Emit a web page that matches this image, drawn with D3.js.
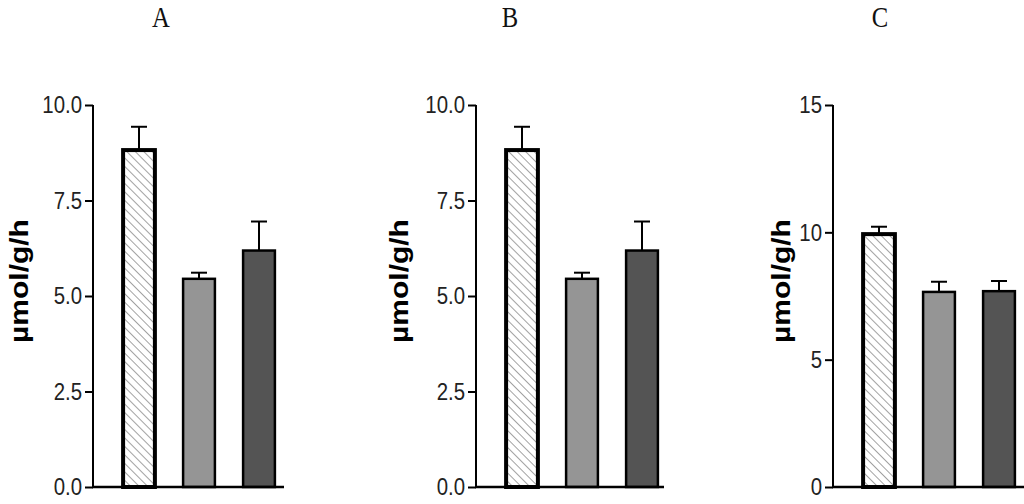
<!DOCTYPE html>
<html>
<head>
<meta charset="utf-8">
<script src="https://cdn.jsdelivr.net/npm/d3@7"></script>
<style>
  body { margin: 0; background: #fff; }
  svg { display: block; }
</style>
</head>
<body>
<svg id="chart" width="1024" height="504"></svg>
<script>
// ---- data ----
const panelTitles = ["A", "B", "C"];
const groups = ["g1", "g2", "g3"];
const meansA = [8.82, 5.45, 6.19];
const errsA  = [0.61, 0.16, 0.76];
const meansB = [8.82, 5.45, 6.19];
const errsB  = [0.61, 0.16, 0.76];
const meansC = [9.93, 7.66, 7.69];
const errsC  = [0.29, 0.40, 0.40];
const ticksAB = [0, 2.5, 5, 7.5, 10];
const ticksC  = [0, 5, 10, 15];
const yLabel = "µmol/g/h";

const panels = [
  { title: panelTitles[0], means: meansA, errs: errsA, ymax: 10, ticks: ticksAB, fmt: d3.format(".1f"),
    axisX: 93, xEnd: 284, titleX: 161, labelX: 18 },
  { title: panelTitles[1], means: meansB, errs: errsB, ymax: 10, ticks: ticksAB, fmt: d3.format(".1f"),
    axisX: 476, xEnd: 664, titleX: 510, labelX: 398 },
  { title: panelTitles[2], means: meansC, errs: errsC, ymax: 15, ticks: ticksC, fmt: d3.format("d"),
    axisX: 833, xEnd: 1024, titleX: 880, labelX: 780 }
];

const fills = ["url(#hatch)", "#959595", "#545454"];
const strokeW = [4, 2.5, 2.5];
const sx = 0.85; // horizontal squeeze of text in the original

const svg = d3.select("#chart");
const defs = svg.append("defs");
const pat = defs.append("pattern")
  .attr("id", "hatch")
  .attr("patternUnits", "userSpaceOnUse")
  .attr("width", 6).attr("height", 6)
  .attr("patternTransform", "rotate(-45)");
pat.append("rect").attr("width", 6).attr("height", 6).attr("fill", "#fff");
pat.append("line").attr("x1", 0).attr("y1", 0).attr("x2", 0).attr("y2", 6)
  .attr("stroke", "#555").attr("stroke-width", 1.1);

const yTop = 105, yBottom = 487;

panels.forEach(p => {
  const g = svg.append("g");
  const y = d3.scaleLinear().domain([0, p.ymax]).range([yBottom, yTop]);
  const x = d3.scaleBand().domain(groups)
    .range([p.axisX + 16, p.axisX + 196])
    .paddingInner(0.47).paddingOuter(0.235);

  // title
  g.append("text")
    .attr("transform", `translate(${p.titleX},27) scale(${sx},1)`)
    .attr("text-anchor", "middle")
    .attr("font-family", "'Liberation Serif', 'Times New Roman', serif")
    .attr("font-size", 29)
    .attr("fill", "#111")
    .text(p.title);

  // y label
  g.append("text")
    .attr("transform", `translate(${p.labelX + 10},281) scale(${sx},1) rotate(-90)`)
    .attr("text-anchor", "middle")
    .attr("font-family", "'Liberation Sans', Arial, sans-serif")
    .attr("font-weight", "bold")
    .attr("font-size", 30)
    .attr("fill", "#000")
    .text(yLabel);

  const data = p.means.map((m, i) => ({ k: groups[i], m, e: p.errs[i], i }));

  // error bars (upward)
  data.forEach(d => {
    const cx = x(d.k) + x.bandwidth() / 2;
    g.append("line")
      .attr("x1", cx).attr("x2", cx)
      .attr("y1", y(d.m)).attr("y2", y(d.m + d.e))
      .attr("stroke", "#000").attr("stroke-width", 2);
    g.append("line")
      .attr("x1", cx - 8).attr("x2", cx + 8)
      .attr("y1", y(d.m + d.e)).attr("y2", y(d.m + d.e))
      .attr("stroke", "#000").attr("stroke-width", 2);
  });

  g.selectAll("rect.bar").data(data).enter().append("rect")
    .attr("class", "bar")
    .attr("x", d => x(d.k))
    .attr("y", d => y(d.m))
    .attr("width", x.bandwidth())
    .attr("height", d => y(0) - y(d.m))
    .attr("fill", d => fills[d.i])
    .attr("stroke", "#000")
    .attr("stroke-width", d => strokeW[d.i]);

  // y axis
  const tickSize = 8, tickPad = 3;
  const yAxis = d3.axisLeft(y).tickValues(p.ticks).tickFormat(p.fmt).tickSize(tickSize).tickPadding(tickPad);
  const ya = g.append("g").attr("transform", `translate(${p.axisX},0)`).call(yAxis);
  ya.select(".domain").attr("stroke", "#000").attr("stroke-width", 2).attr("d", `M0,${yTop}V${yBottom}`);
  ya.selectAll(".tick line").attr("stroke", "#000").attr("stroke-width", 2);
  ya.selectAll(".tick text")
    .attr("font-family", "'Liberation Sans', Arial, sans-serif")
    .attr("font-size", 24)
    .attr("fill", "#222")
    .attr("x", -(tickSize + tickPad) / sx)
    .attr("transform", `scale(${sx},1)`);

  // x axis line
  g.append("line")
    .attr("x1", p.axisX - 1).attr("x2", p.xEnd)
    .attr("y1", yBottom).attr("y2", yBottom)
    .attr("stroke", "#000").attr("stroke-width", 2.5);
});
</script>
</body>
</html>
